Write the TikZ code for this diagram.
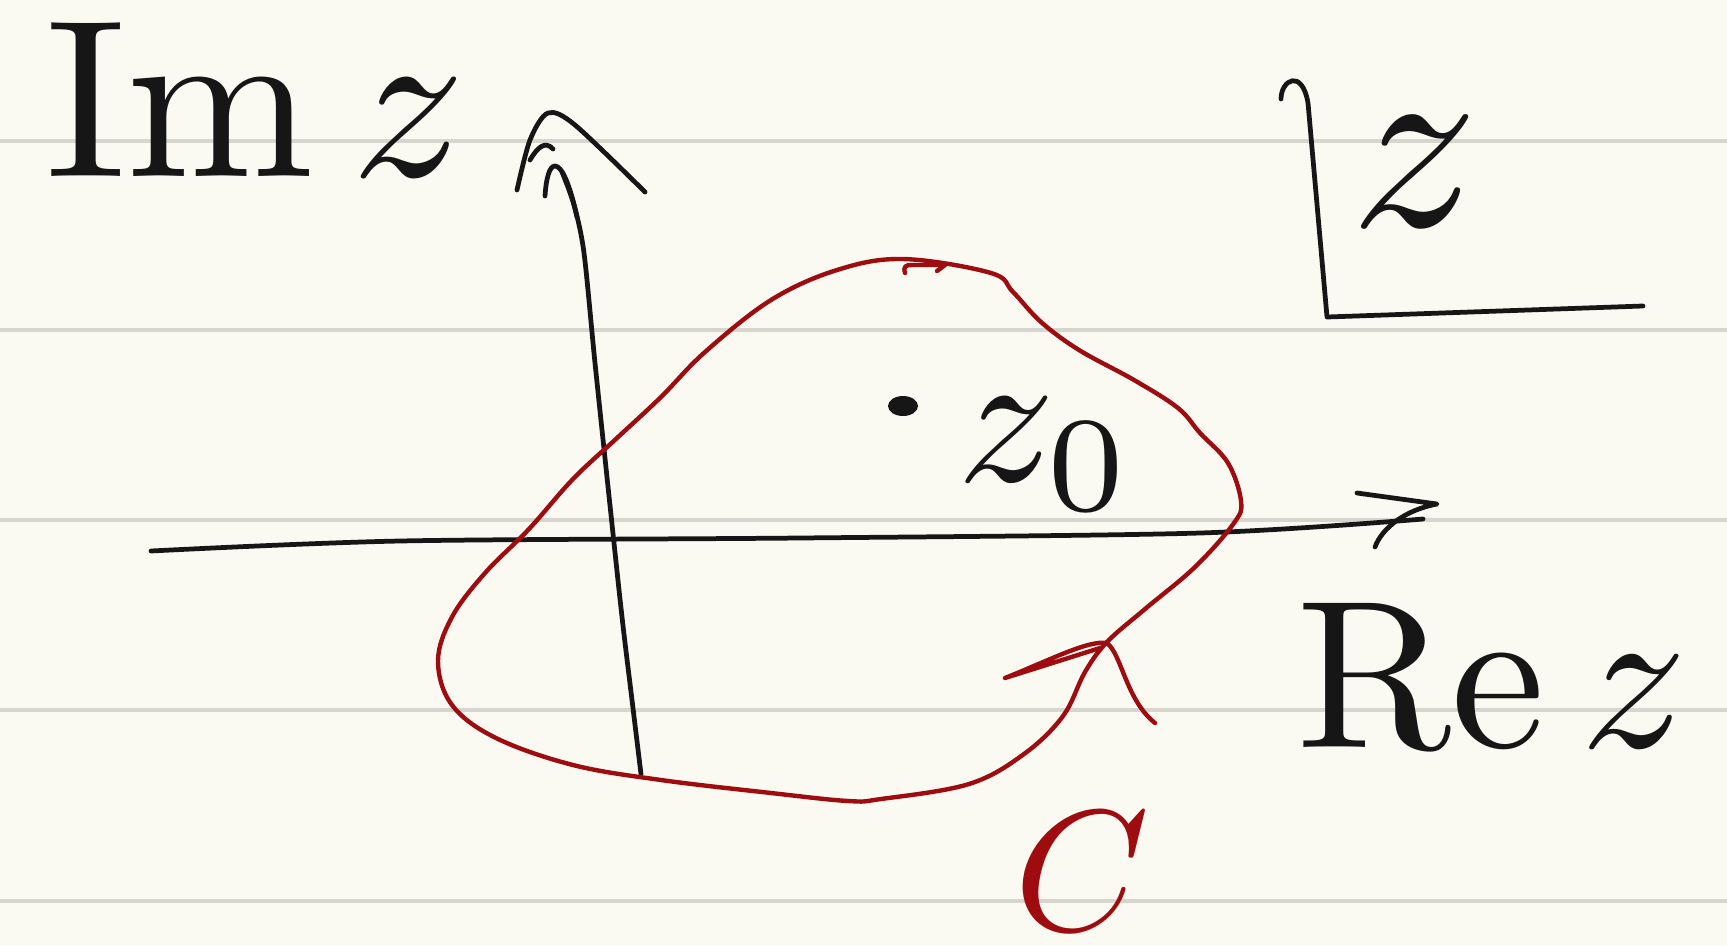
\documentclass[tikz,border=0pt]{standalone}
\usepackage{tikz}
\usetikzlibrary{calc}
\definecolor{paper}{RGB}{250,250,242}
\definecolor{ruling}{RGB}{214,214,206}
\definecolor{pen}{RGB}{22,22,22}
\definecolor{redpen}{RGB}{158,12,16}
\tikzset{
  ink/.style={
    draw=pen,
    line width=1.35pt,
    line cap=round,
    line join=round
  },
  redink/.style={
    draw=redpen,
    line width=1.25pt,
    line cap=round,
    line join=round
  },
  rule/.style={
    draw=ruling,
    line width=1.1pt
  },
  lbl/.style={
    inner sep=0pt,
    text=pen
  }
}

\begin{document}
\begin{tikzpicture}[x=0.01cm, y=-0.01cm]
  % paper and ruled lines
  \fill[paper] (0,0) rectangle (1727,945);
  \useasboundingbox (0,0) rectangle (1727,945);
  \foreach \yy in {141,330,520,710,901}
    \draw[rule] (0,\yy) -- (1727,\yy);

  % real axis
  \draw[ink] plot[smooth] coordinates {(151,551) (400,541) (800,538) (1200,533) (1423,519)};
  \draw[ink] (1357,493) -- (1437,504) .. controls (1405,510) and (1382,528) .. (1375,547);

  % imaginary axis
  \draw[ink] plot[smooth] coordinates {(641,774) (632,700) (622,617) (609,496) (595,363) (584,253) (574,205) (562,172)};
  \draw[ink] (545,196) .. controls (546,180) and (549,166) .. (555,166) .. controls (562,166) and (570,185) .. (577,217);
  \draw[ink] plot[smooth] coordinates {(517,190) (530,140) (548,113) (575,125) (645,192)};
  \draw[ink] (530,160) .. controls (537,148) and (545,140) .. (553,149);

  % contour C
  \draw[redink] plot[smooth cycle, tension=0.6] coordinates {
    (903,259) (991,273) (1013,292) (1041,322) (1079,350) (1134,380)
    (1178,408) (1200,433) (1228,463) (1241,501) (1234,523) (1195,567)
    (1145,609) (1107,642) (1085,672) (1063,716) (1024,754) (969,784)
    (881,799) (848,801) (771,793) (661,780) (573,765) (496,738)
    (452,705) (438,661) (452,617) (485,573) (529,529) (573,479)
    (617,438) (661,397) (705,352) (771,300) (837,270)};
  \draw[redink] (1100,648) -- (1005,678) .. controls (1050,660) and (1088,640) .. (1107,643)
    .. controls (1122,655) and (1126,700) .. (1155,723);
  \draw[redink] (905,273) .. controls (903,266) and (906,265) .. (912,265) -- (943,265);
  \draw[redink] (937,271) -- (945,265);

  % point z0
  \fill[pen] (903,406) ellipse (15 and 10);
  \node[lbl, scale=5.5] (zzero) at (1046,454) {$z_0$};

  % labels
  \node[lbl, scale=6.4] (imlabel) at (256,100) {$\mathrm{Im}\,z$};
  \node[lbl, scale=6.0] (relabel) at (1492,675) {$\mathrm{Re}\,z$};
  \node[lbl, text=redpen, scale=4.9] (clabel) at (1082,872) {$C$};

  % z box
  \draw[ink] (1281,99) .. controls (1281,80) and (1302,68) .. (1308,103) -- (1327,317) -- (1643,306);
  \node[lbl, scale=7.2] (zlabel) at (1415,172) {$z$};
\end{tikzpicture}
\end{document}
